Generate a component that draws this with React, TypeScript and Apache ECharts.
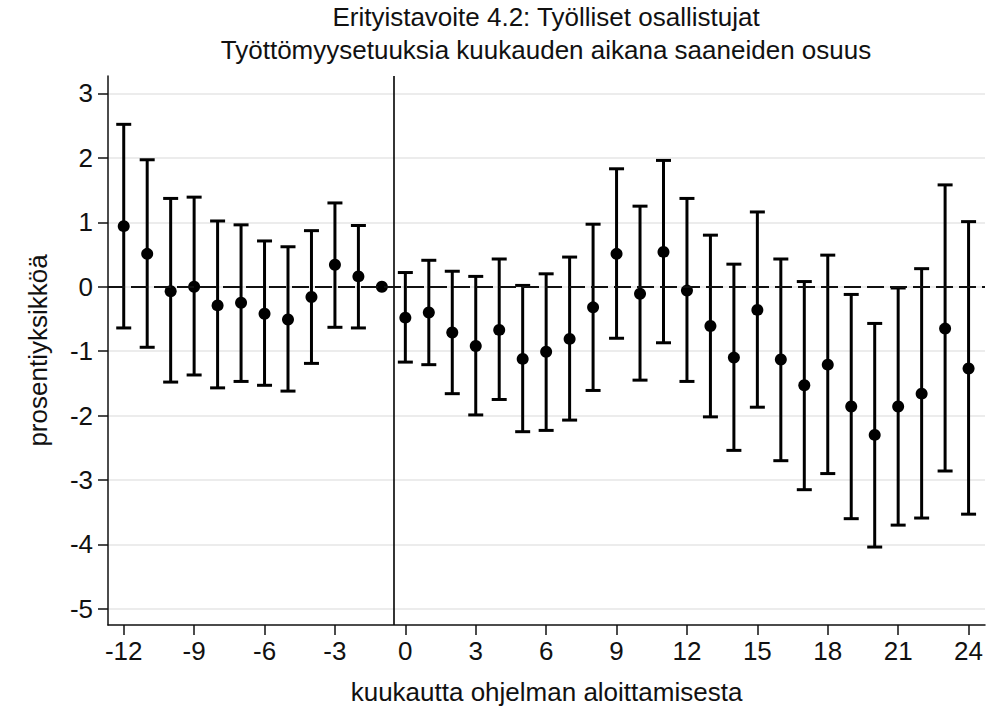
import React, { useEffect, useRef } from "react";
import * as echarts from "echarts";

const titleLine1 = "Erityistavoite 4.2: Työlliset osallistujat";
const titleLine2 = "Työttömyysetuuksia kuukauden aikana saaneiden osuus";
const xAxisName = "kuukautta ohjelman aloittamisesta";
const yAxisName = "prosentiyksikköä";

const months = [
  -12, -11, -10, -9, -8, -7, -6, -5, -4, -3, -2, -1, 0, 1, 2, 3, 4, 5, 6, 7, 8, 9,
  10, 11, 12, 13, 14, 15, 16, 17, 18, 19, 20, 21, 22, 23, 24,
];
const estimate = [
  0.94, 0.51, -0.07, 0.0, -0.29, -0.25, -0.42, -0.51, -0.16, 0.34, 0.16, 0,
  -0.48, -0.4, -0.71, -0.92, -0.67, -1.12, -1.01, -0.81, -0.32, 0.51, -0.11, 0.54,
  -0.06, -0.61, -1.1, -0.36, -1.13, -1.53, -1.21, -1.86, -2.3, -1.86, -1.66, -0.65, -1.27,
];
const upper = [
  2.52, 1.97, 1.37, 1.39, 1.02, 0.96, 0.71, 0.62, 0.87, 1.3, 0.95, null,
  0.22, 0.41, 0.24, 0.16, 0.43, 0.02, 0.2, 0.46, 0.97, 1.83, 1.25, 1.96,
  1.37, 0.8, 0.35, 1.16, 0.43, 0.08, 0.49, -0.12, -0.57, -0.02, 0.28, 1.58, 1.01,
];
const lower = [
  -0.64, -0.94, -1.48, -1.37, -1.57, -1.47, -1.53, -1.62, -1.19, -0.63, -0.64, null,
  -1.17, -1.21, -1.66, -1.99, -1.75, -2.25, -2.23, -2.07, -1.61, -0.8, -1.45, -0.87,
  -1.47, -2.02, -2.54, -1.87, -2.7, -3.15, -2.9, -3.6, -4.04, -3.7, -3.59, -2.86, -3.53,
];
const xTicks = [-12, -9, -6, -3, 0, 3, 6, 9, 12, 15, 18, 21, 24];
const yTicks = [-5, -4, -3, -2, -1, 0, 1, 2, 3];
const treatmentLine = -0.5;

const FONT = "'Liberation Sans', Arial, Helvetica, sans-serif";
const INK = "#111111";

export default function App() {
  const ref = useRef<HTMLDivElement>(null);

  useEffect(() => {
    if (!ref.current) return;
    const chart = echarts.init(ref.current, undefined, { renderer: "svg" });

    const barData = months
      .map((m, i) => [m, lower[i], upper[i]])
      .filter((d) => d[1] !== null && d[2] !== null);
    const pointData = months.map((m, i) => [m, estimate[i]]);

    const option: any = {
      animation: false,
      backgroundColor: "#ffffff",
      textStyle: { fontFamily: FONT, color: INK },
      title: {
        text: titleLine1 + "\n" + titleLine2,
        left: 546,
        top: 0,
        padding: 0,
        textAlign: "center",
        textStyle: {
          fontFamily: FONT,
          fontSize: 26,
          fontWeight: "normal",
          color: INK,
          lineHeight: 33,
        },
      },
      grid: { left: 108, right: 22, top: 76, bottom: 85, containLabel: false },
      xAxis: {
        type: "value",
        min: -12.67,
        max: 24.7,
        name: xAxisName,
        nameLocation: "middle",
        nameGap: 54,
        nameTextStyle: { fontFamily: FONT, fontSize: 26, color: INK },
        axisLine: { show: true, onZero: false, lineStyle: { color: INK, width: 1.5 } },
        axisTick: {
          show: true,
          customValues: xTicks,
          length: 10,
          lineStyle: { color: INK, width: 1.5 },
        },
        axisLabel: {
          customValues: xTicks,
          fontFamily: FONT,
          fontSize: 26,
          color: INK,
          margin: 13,
        },
        splitLine: { show: false },
      },
      yAxis: {
        type: "value",
        min: -5.25,
        max: 3.27,
        name: yAxisName,
        nameLocation: "middle",
        nameGap: 57,
        nameTextStyle: { fontFamily: FONT, fontSize: 26, color: INK },
        axisLine: { show: true, onZero: false, lineStyle: { color: INK, width: 1.5 } },
        axisTick: {
          show: true,
          customValues: yTicks,
          length: 10,
          lineStyle: { color: INK, width: 1.5 },
        },
        axisLabel: {
          customValues: yTicks,
          fontFamily: FONT,
          fontSize: 26,
          color: INK,
          margin: 15,
        },
        splitLine: { show: true, lineStyle: { color: "#e6e6e6", width: 1.5 } },
      },
      series: [
        {
          type: "line",
          data: [],
          silent: true,
          markLine: {
            silent: true,
            symbol: "none",
            label: { show: false },
            data: [
              {
                yAxis: 0,
                lineStyle: { color: INK, width: 2, type: [17, 6] },
              },
              {
                xAxis: treatmentLine,
                lineStyle: { color: INK, width: 1.7, type: "solid" },
              },
            ],
          },
          z: 2,
        },
        {
          type: "custom",
          data: barData,
          z: 3,
          renderItem: (params: any, api: any) => {
            const x = api.value(0);
            const lo = api.coord([x, api.value(1)]);
            const hi = api.coord([x, api.value(2)]);
            const hw = 7.5;
            const style = { stroke: "#000000", lineWidth: 3, fill: "none" };
            return {
              type: "group",
              children: [
                { type: "line", shape: { x1: lo[0], y1: lo[1], x2: hi[0], y2: hi[1] }, style },
                { type: "line", shape: { x1: hi[0] - hw, y1: hi[1], x2: hi[0] + hw, y2: hi[1] }, style },
                { type: "line", shape: { x1: lo[0] - hw, y1: lo[1], x2: lo[0] + hw, y2: lo[1] }, style },
              ],
            };
          },
        },
        {
          type: "scatter",
          data: pointData,
          symbol: "circle",
          symbolSize: 12,
          itemStyle: { color: "#000000", opacity: 1 },
          z: 4,
        },
      ],
    };

    chart.setOption(option);
    return () => chart.dispose();
  }, []);

  return (
    <div
      ref={ref}
      style={{ position: "fixed", left: 0, top: 0, width: 1007, height: 710 }}
    />
  );
}
